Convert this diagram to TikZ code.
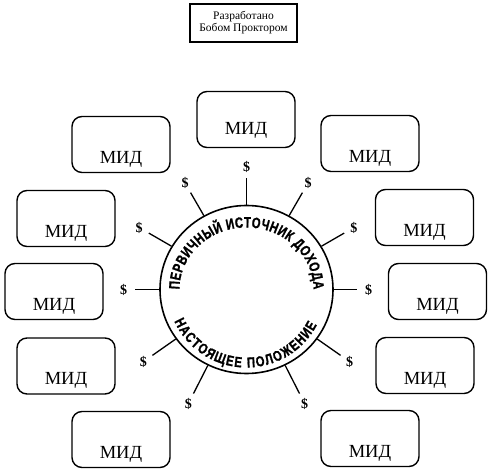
\documentclass[tikz,border=0pt]{standalone}
\usepackage{fontspec}
\setmainfont{Liberation Serif}
\newfontfamily\circfont[FakeStretch=0.75,FakeBold=1.2]{Liberation Sans}
\newfontfamily\circfontb[FakeStretch=0.78,FakeBold=1.2]{Liberation Sans}
\usetikzlibrary{shapes.geometric,decorations.text,calc}
\begin{document}
\begin{tikzpicture}[x=1pt,y=1pt,
  midbox/.style={draw, line width=1.4pt, rounded corners=10pt, minimum width=98pt, minimum height=56pt,
    inner sep=0pt, text height=37.5pt, text depth=0pt, font=\fontsize{18.5}{18.5}\selectfont},
  dollar/.style={circle, inner sep=0pt, minimum size=22pt, font=\bfseries\fontsize{14}{14}\selectfont},
  spoke/.style={line width=1.3pt},
  hdrbox/.style={draw, line width=1.3pt, minimum width=107pt, minimum height=38pt, align=center,
    font=\fontsize{11.5}{12}\selectfont}]
\useasboundingbox (0,0) rectangle (490,474);
% header
\node[hdrbox] (hdr) at (243.5,451) {Разработано\\Бобом Проктором};
% boxes
\node[midbox, text height=29.2pt] (m1) at (246,354.5) {МИД};
\node[midbox] (m2) at (121,329.5) {МИД};
\node[midbox] (m3) at (66,255.5) {МИД};
\node[midbox] (m4) at (54,182.5) {МИД};
\node[midbox] (m5) at (66,108) {МИД};
\node[midbox] (m6) at (121,34.5) {МИД};
\node[midbox] (m7) at (370,330.5) {МИД};
\node[midbox] (m8) at (424.5,256.5) {МИД};
\node[midbox] (m9) at (437.5,182.5) {МИД};
\node[midbox] (m10) at (425,108.5) {МИД};
\node[midbox] (m11) at (370,35.5) {МИД};
% central ellipse
\node[ellipse, draw, line width=1.6pt, minimum width=173pt, minimum height=168pt, inner sep=0pt] (c) at (246.5,184.5) {};
% spokes
\foreach \a/\r [count=\i] in {90/123, 60/123, 120/123, 30/124, 150/124, 0/122, 180/123, 325/126, 215/126, 297/128, 243/128}{
  \node[dollar] (d\i) at ($(c.center)+(\a:\r)$) {\$};
  \draw[spoke] (c.\a) -- (d\i);
}
% curved texts
\path[decorate, decoration={text along path, text align={fit to path},
  text={|\circfont\bfseries\fontsize{15}{15}\selectfont|ПЕРВИЧНЫЙ ИСТОЧНИК ДОХОДА}}]
  ($(c.center)+(-67,0)$) arc[start angle=180, end angle=0, x radius=67, y radius=62];
\path[decorate, decoration={text along path, text align={fit to path},
  text={|\circfontb\bfseries\fontsize{14.5}{14.5}\selectfont|НАСТОЯЩЕЕ ПОЛОЖЕНИЕ}}]
  ($(c.center)+(204:79 and 78)$) arc[start angle=204, end angle=333, x radius=79, y radius=78];
\end{tikzpicture}
\end{document}
